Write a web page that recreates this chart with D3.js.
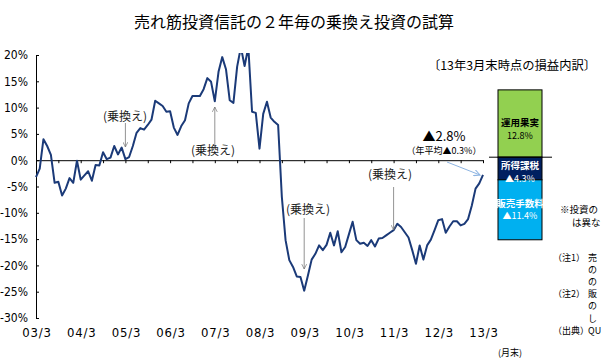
<!DOCTYPE html>
<html><head><meta charset="utf-8">
<script src="https://cdn.jsdelivr.net/npm/d3@7"></script>
<style>
html,body{margin:0;padding:0;background:#fff;overflow:hidden}
text{font-family:"Noto Sans CJK JP",sans-serif}
.num{font-family:"Liberation Sans Narrow","DejaVu Sans Condensed",sans-serif}
</style></head>
<body>
<svg id="c" width="603" height="360"></svg>
<script>
// ---- data ----
const xLabels = ["03/3","04/3","05/3","06/3","07/3","08/3","09/3","10/3","11/3","12/3","13/3"];
const yTicks = [20,15,10,5,0,-5,-10,-15,-20,-25,-30];
// monthly cumulative return (%), 2003/3 .. 2013/3
const values = [
 -3.2,-1.6,4.0,2.7,1.0,-4.3,-4.1,-6.7,-5.4,-3.4,-4.3,-0.1,
 -3.7,-2.9,-2.1,-3.9,-0.9,-1.0,1.5,0.2,0.5,2.7,1.1,2.4,
 0.2,0.6,2.7,5.2,6.1,5.8,6.7,7.7,11.3,10.8,10.3,9.2,
 9.3,6.2,4.8,6.5,7.6,10.8,12.2,12.2,12.2,13.5,15.6,14.9,
 11.2,16.8,19.6,17.3,11.4,10.9,17.8,21.5,17.9,21.5,9.2,9.0,
 2.2,8.8,11.1,8.1,7.3,6.7,-7.0,-15.2,-19.0,-20.3,-22.1,-22.2,
 -24.8,-21.9,-18.9,-17.8,-16.2,-17.1,-16.1,-13.8,-16.2,-13.5,-17.5,-16.5,
 -14.1,-11.7,-15.2,-15.9,-15.7,-16.3,-15.2,-16.4,-14.9,-14.8,-14.3,-13.8,
 -13.3,-12.1,-12.7,-13.7,-14.7,-17.1,-19.7,-16.2,-18.9,-16.2,-15.1,-13.3,
 -11.4,-11.2,-13.8,-12.6,-11.6,-11.6,-12.4,-12.1,-11.2,-8.6,-5.4,-4.4,
 -2.8
];
const switchMonths = [24,48,72,96];   // 乗換え points (05/3, 07/3, 09/3, 11/3)
const breakdownNames = ["運用果実","所得課税","販売手数料"];
const breakdownValues = [12.8,-4.3,-11.4];
const breakdownLabels = ["12.8%","▲4.3%","▲11.4%"];
const breakdownColors = ["#92D050","#002060","#00B0F0"];
const breakdownText = ["#000","#fff","#fff"];

// ---- chart ----
const svg = d3.select("#c");
const x = d3.scaleLinear().domain([0,120]).range([36,483]);
const y = d3.scaleLinear().domain([-30,20]).range([318,55]);

svg.append("defs").html(`
 <clipPath id="plot"><rect x="30" y="53" width="460" height="270"/></clipPath>
 <marker id="ag" viewBox="0 0 8 8" refX="7" refY="4" markerWidth="7" markerHeight="7" orient="auto">
   <path d="M0,0.5 L7,4 L0,7.5" fill="none" stroke="#777" stroke-width="1"/></marker>
 <marker id="ab" viewBox="0 0 8 8" refX="7" refY="4" markerWidth="7" markerHeight="7" orient="auto">
   <path d="M0,0.5 L7,4 L0,7.5" fill="none" stroke="#8DB4E2" stroke-width="1.2"/></marker>
`);

// title
svg.append("text").attr("x",294).attr("y",28).attr("text-anchor","middle")
  .attr("font-size",16).text("売れ筋投資信託の２年毎の乗換え投資の試算");

// y axis
const yAxis = d3.axisLeft(y).tickValues(yTicks).tickSizeInner(-3).tickSizeOuter(0)
  .tickPadding(8).tickFormat(d=>d+"%");
const gy = svg.append("g").attr("transform","translate(36,0)").call(yAxis);
gy.selectAll("text").attr("class","num").attr("font-size",12).attr("fill","#000");
gy.selectAll("path,line").attr("stroke","#000");

// x axis at zero
const sixMonths = d3.range(0,121,6);
const xAxis = d3.axisBottom(x).tickValues(sixMonths).tickSizeInner(3).tickSizeOuter(0).tickFormat("");
const gx = svg.append("g").attr("transform",`translate(0,${y(0)})`).call(xAxis);
gx.selectAll("path,line").attr("stroke","#000");

// x labels (one per year, at the bottom)
svg.append("g").selectAll("text").data(xLabels).join("text")
  .attr("class","num").attr("x",(d,i)=>x(i*12)+1).attr("y",337).attr("text-anchor","middle")
  .attr("font-size",13).attr("letter-spacing",0.8).text(d=>d);
svg.append("text").attr("x",498).attr("y",356)
  .attr("font-size",9).text("(月末)");

// line
const line = d3.line().x((d,i)=>x(i)).y(d=>y(d));
svg.append("path").datum(values).attr("clip-path","url(#plot)")
  .attr("d",line).attr("fill","none").attr("stroke","#1B3A78").attr("stroke-width",2)
  .attr("stroke-linejoin","round");

// 乗換え annotations
const ann = [
  {m:24, lx:125, ly:121, y1:123, y2:147},
  {m:48, lx:213, ly:155, y1:147, y2:107},
  {m:72, lx:308, ly:214, y1:218, y2:269},
  {m:96, lx:390, ly:179, y1:187, y2:230}
];
ann.forEach(a=>{
  svg.append("text").attr("x",a.lx).attr("y",a.ly).attr("text-anchor","middle")
    .attr("font-size",12).attr("fill","#222").text("(乗換え)");
  svg.append("line").attr("x1",x(a.m)).attr("x2",x(a.m)).attr("y1",a.y1).attr("y2",a.y2)
    .attr("stroke","#777").attr("stroke-width",0.8).attr("marker-end","url(#ag)");
});

// end annotation
svg.append("text").attr("x",444).attr("y",141).attr("text-anchor","middle")
  .attr("font-size",13).text("▲2.8%");
svg.append("text").attr("x",444).attr("y",154).attr("text-anchor","middle")
  .attr("font-size",9).text("（年平均▲0.3%）");
svg.append("line").attr("x1",447).attr("y1",162).attr("x2",480).attr("y2",175)
  .attr("stroke","#8DB4E2").attr("stroke-width",1).attr("marker-end","url(#ab)");

// breakdown panel
svg.append("text").attr("x",428).attr("y",70).attr("font-size",12.3)
  .text("〔13年3月末時点の損益内訳〕");
const yb = d3.scaleLinear().domain([-30,20]).range([315,52]);
let pos = 0, neg = 0;
const segs = breakdownValues.map((v,i)=>{
  let s;
  if (v >= 0) { s = {i, a:pos, b:pos+v}; pos += v; }
  else { s = {i, a:neg, b:neg+v}; neg += v; }
  return s;
});
const bx0 = 498, bw = 44;
segs.forEach(s=>{
  const top = yb(Math.max(s.a,s.b)), bot = yb(Math.min(s.a,s.b));
  svg.append("rect").attr("x",bx0).attr("y",top).attr("width",bw).attr("height",bot-top)
    .attr("fill",breakdownColors[s.i]).attr("stroke","#000").attr("stroke-width",1);
});
svg.append("line").attr("x1",489).attr("x2",552).attr("y1",yb(0)).attr("y2",yb(0))
  .attr("stroke","#000").attr("stroke-width",1);
const labY = [[122,135],[165,178],[203,215]];
segs.forEach(s=>{
  svg.append("text").attr("x",bx0+bw/2).attr("y",labY[s.i][0]+3.5).attr("text-anchor","middle")
    .attr("font-size",9.5).attr("font-weight","bold").attr("fill",breakdownText[s.i])
    .text(breakdownNames[s.i]);
  svg.append("text").attr("x",bx0+bw/2).attr("y",labY[s.i][1]+3.5).attr("text-anchor","middle")
    .attr("font-size",9).attr("fill",breakdownText[s.i]).text(breakdownLabels[s.i]);
});

// side notes (only the part visible inside the frame)
svg.append("text").attr("x",560).attr("y",213).attr("font-size",9.5).text("※投資の");
svg.append("text").attr("x",572).attr("y",226).attr("font-size",9.5).text("は異な");
const noteHeads = [[0,"（注1）"],[3,"（注2）"],[6,"（出典）"]];
const noteBodies = ["売","の","の","販","の","し","QU"];
noteHeads.forEach(n=>{
  svg.append("text").attr("x",553).attr("y",261+n[0]*12.1).attr("font-size",9).text(n[1]);
});
noteBodies.forEach((t,i)=>{
  svg.append("text").attr("x",588).attr("y",261+i*12.1).attr("font-size",9).text(t);
});
</script>
</body></html>
